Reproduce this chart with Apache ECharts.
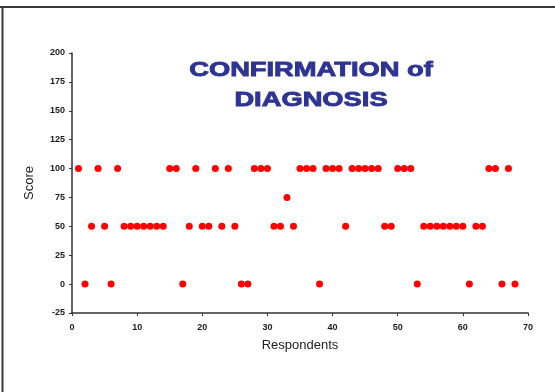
<!DOCTYPE html>
<html>
<head>
<meta charset="utf-8">
<script src="https://cdn.jsdelivr.net/npm/echarts@6/dist/echarts.min.js"></script>
<style>
html,body{margin:0;padding:0;background:#fff;}
#chart{width:555px;height:392px;}
</style>
</head>
<body>
<div id="chart"></div>
<script>
// Data
const respondents = [1,2,3,4,5,6,7,8,9,10,11,12,13,14,15,16,17,18,19,20,21,22,23,24,25,26,27,28,29,30,31,32,33,34,35,36,37,38,39,40,41,42,43,44,45,46,47,48,49,50,51,52,53,54,55,56,57,58,59,60,61,62,63,64,65,66,67,68];
const scores = [100,0,50,100,50,0,100,50,50,50,50,50,50,50,100,100,0,50,100,50,50,100,50,100,50,0,0,100,100,100,50,50,75,50,100,100,100,0,100,100,100,50,100,100,100,100,100,50,50,100,100,100,0,50,50,50,50,50,50,50,0,50,50,100,100,0,100,0];
const titleLines = ['CONFIRMATION of', 'DIAGNOSIS'];
const xAxisTitle = 'Respondents';
const yAxisTitle = 'Score';

const points = respondents.map((r, i) => [r, scores[i]]);

const chart = echarts.init(document.getElementById('chart'), null, {renderer: 'canvas'});
const labelStyle = {fontFamily: 'Liberation Sans, Arial, sans-serif', fontWeight: 'bold', fontSize: 9, color: '#1a1a1a'};
const titleStyle = (t) => ({text: t, fill: '#2e3494', stroke: '#2e3494', lineWidth: 0.9, font: 'bold 21px "Liberation Sans", Arial, sans-serif', textAlign: 'center', textVerticalAlign: 'middle'});
chart.setOption({
  backgroundColor: '#fff',
  animation: false,
  grid: {left: 72, right: 27, top: 53, bottom: 79},
  graphic: [
    {type: 'line', shape: {x1: 0, y1: 7, x2: 555, y2: 7}, style: {stroke: '#3a3a3a', lineWidth: 2}},
    {type: 'line', shape: {x1: 2.5, y1: 6, x2: 2.5, y2: 392}, style: {stroke: '#3a3a3a', lineWidth: 2}},
    {type: 'text', x: 311, y: 70, scaleX: 1.3, style: titleStyle(titleLines[0])},
    {type: 'text', x: 311, y: 100, scaleX: 1.3, style: titleStyle(titleLines[1])}
  ],
  xAxis: {
    type: 'value', min: 0, max: 70, interval: 10,
    name: xAxisTitle, nameLocation: 'middle', nameGap: 26,
    nameTextStyle: {fontFamily: 'Liberation Sans, Arial, sans-serif', fontSize: 13, color: '#222'},
    axisLine: {show: true, onZero: false, lineStyle: {color: '#333', width: 1.5}},
    axisTick: {show: true, inside: false, length: 3, lineStyle: {color: '#333'}},
    axisLabel: Object.assign({margin: 10}, labelStyle),
    splitLine: {show: false}
  },
  yAxis: {
    type: 'value', min: -25, max: 200, interval: 25,
    name: yAxisTitle, nameLocation: 'middle', nameGap: 36, nameRotate: 90,
    nameTextStyle: {fontFamily: 'Liberation Sans, Arial, sans-serif', fontSize: 13, color: '#222'},
    axisLine: {show: true, onZero: false, lineStyle: {color: '#333', width: 1.5}},
    axisTick: {show: true, inside: false, length: 3, lineStyle: {color: '#333'}},
    axisLabel: Object.assign({margin: 7}, labelStyle),
    splitLine: {show: false}
  },
  series: [{
    type: 'scatter',
    data: points,
    symbol: 'circle',
    symbolSize: 7,
    itemStyle: {color: '#ff0000', opacity: 1}
  }]
});
</script>
</body>
</html>
